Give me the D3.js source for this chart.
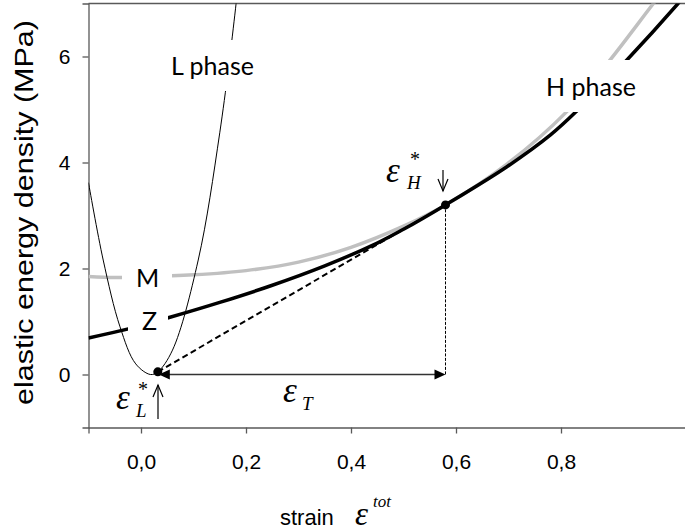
<!DOCTYPE html>
<html>
<head>
<meta charset="utf-8">
<script src="https://cdnjs.cloudflare.com/ajax/libs/d3/7.8.5/d3.min.js"></script>
<style>
  body { margin: 0; background: #fff; }
  svg { display: block; }
</style>
</head>
<body>
<div id="chart"></div>
<script>
// values
var strainL = [-0.1, -0.072, -0.04, -0.01, 0.018, 0.032, 0.06, 0.109, 0.15, 0.18, 0.19];
var energyL = [3.62, 2.16, 0.9, 0.2, 0.0, 0.05, 0.46, 2.16, 4.56, 6.9, 7.9];

var strainM = [-0.1, -0.05, 0.0, 0.1, 0.2, 0.3, 0.4, 0.5, 0.58, 0.697, 0.811, 0.894, 0.976, 1.0];
var energyM = [1.85, 1.83, 1.84, 1.88, 1.96, 2.12, 2.4, 2.8, 3.2, 3.97, 4.96, 5.94, 7.0, 7.3];

var strainZ = [-0.1, -0.024, 0.052, 0.15, 0.246, 0.35, 0.45, 0.5, 0.58, 0.697, 0.78, 0.831, 0.926, 1.023, 1.04];
var energyZ = [0.69, 0.86, 1.07, 1.36, 1.67, 2.05, 2.48, 2.74, 3.2, 3.92, 4.52, 4.98, 5.94, 7.0, 7.2];

var epsL = [0.032, 0.05];   // tangent point on L
var epsH = [0.58, 3.2];     // tangent point on Z

var xTicks = [0, 0.2, 0.4, 0.6, 0.8];
var yTicks = [0, 2, 4, 6];

var W = 685, H = 532;
var margin = {top: 3.5, left: 88.5, bottom: 427.5, right: 687};

var x = d3.scaleLinear().domain([-0.1, 1.04]).range([margin.left, margin.right]);
var y = d3.scaleLinear().domain([-1, 7]).range([margin.bottom, margin.top]);

var svg = d3.select("#chart").append("svg")
    .attr("width", W).attr("height", H);

svg.append("clipPath").attr("id", "plot")
  .append("rect")
    .attr("x", margin.left).attr("y", margin.top)
    .attr("width", margin.right - margin.left)
    .attr("height", margin.bottom - margin.top);

var axisCol = "#595959";
var fmt = function(d) { return d3.format(".1f")(d).replace(".", ","); };

// axes
var xAxis = svg.append("g").attr("transform", "translate(0," + margin.bottom + ")")
    .call(d3.axisBottom(x).tickValues(xTicks).tickSize(6).tickPadding(21).tickFormat(fmt));
var yAxis = svg.append("g").attr("transform", "translate(" + margin.left + ",0)")
    .call(d3.axisLeft(y).tickValues(yTicks).tickSize(6).tickPadding(12).tickFormat(d3.format("d")));

[xAxis, yAxis].forEach(function(a) {
    a.select(".domain").attr("stroke", axisCol).attr("stroke-width", 1.3);
    a.selectAll(".tick line").attr("stroke", axisCol).attr("stroke-width", 1.3);
    a.selectAll(".tick text").attr("fill", "#000")
      .style("font-family", "'Liberation Sans', Arial, sans-serif").style("font-size", "21px");
});
xAxis.selectAll(".tick text").attr("dy", "0.71em");

// top frame line
svg.append("line")
    .attr("x1", margin.left).attr("x2", margin.right)
    .attr("y1", margin.top).attr("y2", margin.top)
    .attr("stroke", axisCol).attr("stroke-width", 1.3);

var g = svg.append("g").attr("clip-path", "url(#plot)");

var line = d3.line()
    .x(function(d) { return x(d[0]); })
    .y(function(d) { return y(d[1]); })
    .curve(d3.curveCatmullRom);

function pairs(a, b) { return a.map(function(v, i) { return [v, b[i]]; }); }

function labelBox(x0, y0, w, h) {
    g.append("rect").attr("x", x0).attr("y", y0).attr("width", w).attr("height", h).attr("fill", "#fff");
}

var phaseFont = "Lato, 'Open Sans', sans-serif";

// M (grey) and Z (black) curves
g.append("path").datum(pairs(strainM, energyM))
    .attr("d", line).attr("fill", "none").attr("stroke", "#c0c0c0").attr("stroke-width", 3.5);
g.append("path").datum(pairs(strainZ, energyZ))
    .attr("d", line).attr("fill", "none").attr("stroke", "#000").attr("stroke-width", 3.5);

// boxes behind M, Z, H phase
labelBox(122, 262, 50, 32);
labelBox(128, 304, 40, 36);
labelBox(540, 60, 112, 52);

// L curve
g.append("path").datum(pairs(strainL, energyL))
    .attr("d", line).attr("fill", "none").attr("stroke", "#000").attr("stroke-width", 1);
labelBox(165, 40, 102, 51);

// common tangent
svg.append("line")
    .attr("x1", x(epsL[0])).attr("y1", y(epsL[1]))
    .attr("x2", x(epsH[0])).attr("y2", y(epsH[1]))
    .attr("stroke", "#000").attr("stroke-width", 2).attr("stroke-dasharray", "6,3.5");

// vertical dotted drop
svg.append("line")
    .attr("x1", x(epsH[0])).attr("y1", y(epsH[1]))
    .attr("x2", x(epsH[0])).attr("y2", y(0))
    .attr("stroke", "#000").attr("stroke-width", 1).attr("stroke-dasharray", "3,1.5");

// double arrow for eps_T
svg.append("line")
    .attr("x1", x(epsL[0]) + 8).attr("y1", y(0))
    .attr("x2", x(epsH[0]) - 8).attr("y2", y(0))
    .attr("stroke", "#333").attr("stroke-width", 1.5);
svg.append("path")
    .attr("d", "M" + (x(epsH[0])) + "," + y(0) + "l-11,-5l0,10z").attr("fill", "#000");
svg.append("path")
    .attr("d", "M" + (x(epsL[0]) + 1) + "," + y(0) + "l11,-5l0,10z").attr("fill", "#000");

// dots
svg.selectAll(".dot").data([epsL, epsH]).enter().append("circle")
    .attr("class", "dot")
    .attr("cx", function(d) { return x(d[0]); })
    .attr("cy", function(d) { return y(d[1]); })
    .attr("r", 4.5).attr("fill", "#000");

// small pointer arrows
function pointer(px, yFrom, yTo) {
    var dir = yTo > yFrom ? -1 : 1;
    svg.append("line").attr("x1", px).attr("x2", px).attr("y1", yFrom).attr("y2", yTo)
        .attr("stroke", "#000").attr("stroke-width", 1.2);
    svg.append("path")
        .attr("d", "M" + (px - 5) + "," + (yTo + dir * 12) + "L" + px + "," + yTo + "L" + (px + 5) + "," + (yTo + dir * 12))
        .attr("fill", "none").attr("stroke", "#000").attr("stroke-width", 1.2);
}
pointer(158, 419, 385);
pointer(443, 170, 191);

// text labels
function txt(tx, ty, s, size, fam, style) {
    return svg.append("text").attr("x", tx).attr("y", ty).text(s)
        .style("font-size", size + "px").style("font-family", fam)
        .style("font-style", style || "normal").attr("fill", "#000");
}
txt(171, 75, "L phase", 25, phaseFont);
txt(546, 96, "H phase", 25, phaseFont);
txt(136, 287, "M", 25, phaseFont);
txt(142, 330, "Z", 25, phaseFont);

var serif = "'Liberation Serif', 'Times New Roman', serif";
// eps_L*
txt(116, 409, "\u03b5", 35, serif, "italic");
txt(136, 417, "L", 19, serif, "italic");
txt(138, 396, "*", 20, serif);
// eps_H*
txt(386, 182, "\u03b5", 35, serif, "italic");
txt(407, 189, "H", 19, serif, "italic");
txt(410, 166, "*", 20, serif);
// eps_T
txt(283, 402, "\u03b5", 35, serif, "italic");
txt(302, 410, "T", 19, serif, "italic");

// axis titles
txt(280, 525, "strain", 22, "'Liberation Sans', Arial, sans-serif");
txt(355, 525, "\u03b5", 33, serif, "italic");
txt(373, 507, "tot", 17, serif, "italic");

svg.append("text")
    .attr("transform", "translate(33,212.5) rotate(-90)")
    .attr("text-anchor", "middle")
    .attr("textLength", 385).attr("lengthAdjust", "spacingAndGlyphs")
    .style("font-size", "25px").style("font-family", "'Liberation Sans', Arial, sans-serif")
    .text("elastic energy density (MPa)");
</script>
</body>
</html>
